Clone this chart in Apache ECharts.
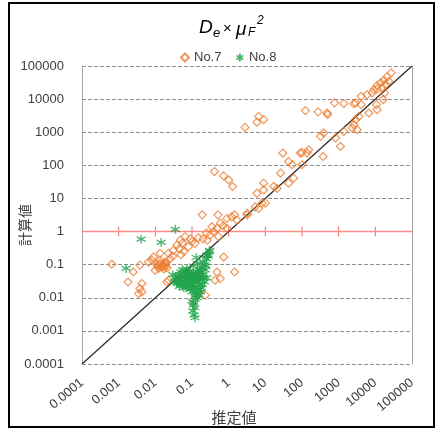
<!DOCTYPE html>
<html>
<head>
<meta charset="utf-8">
<script src="https://cdn.jsdelivr.net/npm/echarts@6/dist/echarts.min.js"></script>
<style>
  html, body { margin: 0; padding: 0; background: #fff; }
  #chart { width: 437px; height: 429px; }
</style>
</head>
<body>
<div id="chart"></div>
<script>
// Estimated value (x) vs computed value (y), log–log
const tickLabels = ['0.0001', '0.001', '0.01', '0.1', '1', '10', '100', '1000', '10000', '100000'];
const crossTicks = [0.001, 0.01, 0.1, 1, 10, 100, 1000, 10000];

const no7X = [
  27000, 21000, 17000, 13900, 23400, 19000, 15400, 11200, 11200, 17800,
  9100, 8200, 6000, 4100, 2900, 4100, 6650, 10800, 11200, 16400,
  770, 1380, 2600, 124, 275, 485, 500, 6.6, 5.9, 9.0,
  2.8, 3550, 2900, 2600, 2340, 3200, 1380, 820, 1120, 390,
  320, 30, 90, 100, 152, 138, 43, 54, 100, 377,
  26, 59, 43, 9, 17, 3.2, 5.3, 6.6, 5.9, 9,
  8.1, 10, 21, 0.41, 0.73, 1.0, 1.28, 0.19, 0.51, 1.45,
  0.9, 1.7, 3.2, 0.48, 0.39, 0.31, 0.26, 0.53, 0.9, 0.065,
  0.048, 0.12, 0.08, 0.039, 0.031, 0.023, 0.0135, 0.0089, 0.008, 0.0065,
  0.0135, 0.0166, 0.0185, 0.0122, 0.0099, 0.0038, 0.0025, 0.00065, 0.0018, 0.0043,
  0.0038, 0.0035, 0.0043, 0.0206, 0.023, 0.73, 1.45, 0.48, 0.43, 0.59,
  0.136, 0.23, 0.011, 0.014, 0.015, 0.012, 0.017, 0.02, 0.025, 0.03,
  0.045, 0.055, 0.09, 0.15, 0.2, 0.25, 0.35, 0.6, 0.7, 1.2,
  0.05, 0.06, 0.1, 0.016, 0.019, 0.013, 0.021, 0.018
];
const no7Y = [
  62000, 47000, 37000, 31000, 34600, 27500, 21800, 25600, 20400, 15400,
  19400, 15400, 13700, 12200, 7700, 6800, 3800, 6800, 4800, 9700,
  7700, 7300, 7300, 4500, 4100, 3800, 3400, 3000, 2000, 2400,
  1400, 3000, 2400, 1690, 1340, 1190, 1060, 670, 370, 950,
  750, 235, 235, 245, 295, 235, 130, 104, 104, 185,
  58, 41, 29, 29, 23, 3.6, 5.6, 5.0, 14.4, 18,
  7.2, 7.2, 20, 65, 48, 36, 23, 3.2, 3.2, 3.2,
  2.5, 2.2, 3.2, 1.25, 0.99, 0.78, 0.55, 0.70, 1.25, 0.70,
  0.55, 0.44, 0.35, 0.39, 0.27, 0.22, 0.22, 0.17, 0.137, 0.12,
  0.137, 0.097, 0.086, 0.077, 0.068, 0.097, 0.06, 0.103, 0.030, 0.027,
  0.019, 0.0134, 0.015, 0.030, 0.034, 0.17, 0.06, 0.06, 0.034, 0.038,
  0.012, 0.012, 0.1, 0.11, 0.085, 0.09, 0.075, 0.12, 0.15, 0.18,
  0.3, 0.45, 0.6, 0.65, 0.6, 0.9, 1.4, 1.8, 1.5, 2.8,
  0.2, 0.25, 0.5, 0.09, 0.1, 0.105, 0.08, 0.115
];

const no8X = [
  0.03, 0.035, 0.04, 0.045, 0.05, 0.055, 0.06, 0.065, 0.07, 0.075,
  0.08, 0.085, 0.09, 0.05, 0.04, 0.07, 0.06, 0.033, 0.045, 0.1,
  0.095, 0.11, 0.065, 0.055, 0.12, 0.13, 0.14, 0.15, 0.16, 0.17,
  0.18, 0.2, 0.22, 0.25, 0.27, 0.3, 0.2, 0.23, 0.19, 0.17,
  0.15, 0.14, 0.12, 0.18, 0.16, 0.25, 0.22, 0.1, 0.13, 0.11,
  0.14, 0.1, 0.11, 0.12, 0.105, 0.115, 0.12, 0.11, 0.125, 0.035,
  0.0041, 0.0144, 0.0016, 0.3, 0.255, 0.13, 0.073,
  0.038, 0.042, 0.048, 0.052, 0.058, 0.062, 0.068, 0.078, 0.082, 0.088,
  0.092, 0.098, 0.105, 0.115, 0.135, 0.145, 0.155, 0.165, 0.175, 0.21,
  0.24, 0.28, 0.09, 0.075, 0.12, 0.16, 0.19, 0.13, 0.1, 0.085
];
const no8Y = [
  0.05, 0.04, 0.03, 0.05, 0.035, 0.025, 0.045, 0.03, 0.02, 0.04,
  0.055, 0.03, 0.018, 0.06, 0.045, 0.065, 0.02, 0.03, 0.022, 0.04,
  0.025, 0.05, 0.05, 0.07, 0.03, 0.02, 0.04, 0.06, 0.025, 0.035,
  0.08, 0.05, 0.1, 0.15, 0.2, 0.25, 0.12, 0.07, 0.04, 0.015,
  0.012, 0.01, 0.014, 0.02, 0.05, 0.04, 0.03, 0.015, 0.06, 0.09,
  0.11, 0.008, 0.006, 0.005, 0.004, 0.003, 0.0025, 0.007, 0.009, 1.17,
  0.59, 0.47, 0.077, 0.27, 0.19, 0.165, 0.073,
  0.028, 0.035, 0.026, 0.042, 0.033, 0.052, 0.024, 0.028, 0.045, 0.022,
  0.035, 0.05, 0.03, 0.02, 0.05, 0.03, 0.04, 0.018, 0.06, 0.04,
  0.09, 0.18, 0.045, 0.05, 0.04, 0.07, 0.025, 0.012, 0.025, 0.065
];
const diagonal = [[0.0001, 0.0001], [100000, 100000]];
const unityLine = [[0.0001, 1], [100000, 1]];

const zip = (xs, ys) => xs.map((x, i) => [x, ys[i]]);

const FONT = 'Liberation Sans';
const TXT = '#404040';
const starPath = 'path://M0,-5L0,5M-4.3,-2.5L4.3,2.5M-4.3,2.5L4.3,-2.5';
const labelOf = (v) => tickLabels[Math.round(Math.log10(v)) + 4];

const chart = echarts.init(document.getElementById('chart'), null, { renderer: 'canvas' });

chart.setOption({
  animation: false,
  backgroundColor: '#fff',
  textStyle: { fontFamily: FONT },
  grid: { left: 82, right: 25, top: 66, bottom: 65 },
  legend: {
    top: 46,
    left: 175,
    itemWidth: 8,
    itemHeight: 8,
    itemGap: 14,
    textStyle: { fontSize: 13, color: TXT, fontFamily: FONT },
    data: ['No.7', 'No.8']
  },
  xAxis: {
    type: 'log',
    logBase: 10,
    min: 0.0001,
    max: 100000,
    axisLine: { show: false },
    axisTick: { show: false },
    splitLine: { show: false },
    axisLabel: {
      rotate: 40,
      margin: 17,
      fontSize: 13,
      color: TXT,
      fontFamily: FONT,
      formatter: labelOf
    }
  },
  yAxis: [
    {
      type: 'log',
      logBase: 10,
      min: 0.0001,
      max: 100000,
      axisLine: { show: true, lineStyle: { color: '#a6a6a6', width: 1 } },
      axisTick: { show: false },
      splitLine: { show: true, lineStyle: { color: '#8f8f8f', width: 1, type: [4, 2] } },
      axisLabel: {
        margin: 18,
        fontSize: 13,
        color: TXT,
        fontFamily: FONT,
        formatter: labelOf
      }
    },
    {
      type: 'log',
      logBase: 10,
      min: 0.0001,
      max: 100000,
      position: 'right',
      axisLine: { show: true, lineStyle: { color: '#a6a6a6', width: 1 } },
      axisTick: { show: false },
      axisLabel: { show: false },
      splitLine: { show: false }
    }
  ],
  series: [
    {
      name: 'unity',
      type: 'line',
      data: unityLine,
      symbol: 'none',
      silent: true,
      lineStyle: { color: '#ff8a8a', width: 1.5 },
      z: 1
    },
    {
      name: 'unityTicks',
      type: 'custom',
      data: crossTicks.map((v) => [v, 1]),
      silent: true,
      z: 1,
      renderItem: (params, api) => {
        const p = api.coord([api.value(0), api.value(1)]);
        return {
          type: 'line',
          shape: { x1: p[0], y1: p[1] - 5, x2: p[0], y2: p[1] + 5 },
          style: { stroke: '#ff6b6b', lineWidth: 1 }
        };
      }
    },
    {
      name: 'diag',
      type: 'line',
      data: diagonal,
      symbol: 'none',
      silent: true,
      lineStyle: { color: '#262626', width: 1.2 },
      z: 2
    },
    {
      name: 'No.7',
      type: 'scatter',
      data: zip(no7X, no7Y),
      symbol: 'diamond',
      symbolSize: 8,
      itemStyle: { color: 'rgba(255,255,255,0)', borderColor: '#ed7d31', borderWidth: 1.2 },
      z: 3
    },
    {
      name: 'No.8',
      type: 'scatter',
      data: zip(no8X, no8Y),
      symbol: starPath,
      symbolSize: 9,
      itemStyle: { color: '#1fa34a', borderColor: '#1fa34a', borderWidth: 1.3 },
      z: 4
    }
  ],
  graphic: [
    {
      type: 'rect',
      shape: { x: 9, y: 3, width: 425, height: 424 },
      style: { fill: 'none', stroke: '#000', lineWidth: 2 },
      silent: true
    },
    // Title D_e × μ_F^2
    { type: 'text', x: 199, y: 18, style: { text: 'D', font: 'italic 19px "Liberation Sans"', fill: '#000', verticalAlign: 'top' } },
    { type: 'text', x: 213, y: 27, style: { text: 'e', font: 'italic 13px "Liberation Sans"', fill: '#000', verticalAlign: 'top' } },
    { type: 'text', x: 223, y: 21, style: { text: '×', font: '15px "Liberation Sans"', fill: '#000', verticalAlign: 'top' } },
    { type: 'text', x: 236, y: 20, style: { text: 'μ', font: 'italic 19px "Liberation Sans"', fill: '#000', verticalAlign: 'top' } },
    { type: 'text', x: 248, y: 27, style: { text: 'F', font: 'italic 12px "Liberation Sans"', fill: '#000', verticalAlign: 'top' } },
    { type: 'text', x: 257, y: 15, style: { text: '2', font: 'italic 12px "Liberation Sans"', fill: '#000', verticalAlign: 'top' } },
    // Axis titles
    {
      type: 'text', x: 25, y: 225, rotation: Math.PI / 2,
      style: { text: '計算値', font: '14px "Noto Sans CJK JP"', fill: TXT, align: 'center', verticalAlign: 'middle' }
    },
    {
      type: 'text', x: 234, y: 417,
      style: { text: '推定値', font: '15px "Noto Sans CJK JP"', fill: TXT, align: 'center', verticalAlign: 'middle' }
    }
  ]
});
</script>
</body>
</html>
